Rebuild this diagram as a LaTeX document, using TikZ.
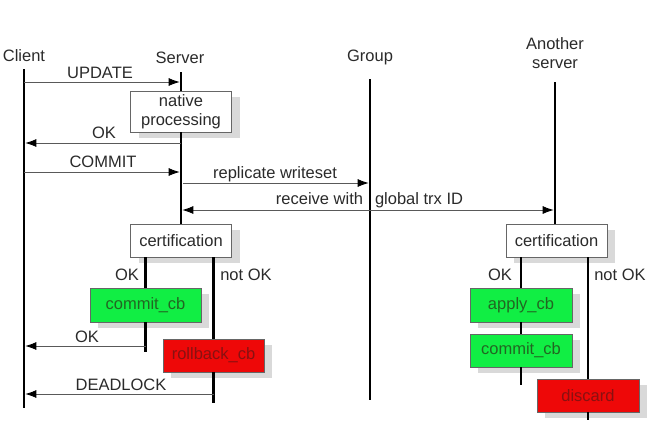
\documentclass[tikz,border=0pt]{standalone}
\usepackage{fontspec}
\setmainfont{Liberation Sans}
\usetikzlibrary{shadows,arrows.meta}
\definecolor{txt}{HTML}{2A2A2A}
\definecolor{boxgreen}{HTML}{11EE44}
\definecolor{boxred}{HTML}{EE0808}
\definecolor{gtxt}{HTML}{226622}
\definecolor{rtxt}{HTML}{881111}
\tikzset{
  life/.style={line width=2.5pt, black},
  msg/.style={line width=0.8pt, draw=black!65, -{Latex[length=11pt,width=8pt,black]}, shorten >=1.3pt},
  msgboth/.style={line width=0.8pt, draw=black!65, {Latex[length=11pt,width=8pt,black]}-{Latex[length=11pt,width=8pt,black]}, shorten >=1.3pt, shorten <=1.3pt},
  lbl/.style={text=txt, font=\fontsize{16.5}{18}\selectfont, inner sep=0pt},
  box/.style={draw=black!60, line width=0.8pt, fill=white, minimum width=101pt, minimum height=33pt, inner sep=0pt, align=center,
    drop shadow={shadow xshift=8pt, shadow yshift=-6pt, fill=black!15, opacity=1},
    text=txt, font=\fontsize{16.5}{18}\selectfont},
  gbox/.style={box, fill=boxgreen, text=gtxt},
  rbox/.style={box, fill=boxred, text=rtxt},
}
\begin{document}
\begin{tikzpicture}[x=1pt,y=-1pt]
\useasboundingbox (0,0) rectangle (649,445);

% headers
\node[lbl] (lc) at (24,56) {Client};
\node[lbl] (ls) at (180,58) {Server};
\node[lbl] (lg) at (370,57) {Group};
\node[lbl, align=center, font=\fontsize{16.5}{19}\selectfont] (la) at (555,53) {Another\\server};

% boxes
\node[box, minimum height=41pt, font=\fontsize{16.5}{19}\selectfont] (np) at (181,111.5) {native\\processing};
\node[box] (cert1) at (181,240.5) {certification};
\node[gbox, minimum width=111pt, minimum height=34pt] (ccb1) at (145.5,305) {commit\_cb};
\node[rbox] (rb) at (213.5,355.5) {rollback\_cb};
\node[box] (cert2) at (556.5,240.5) {certification};
\node[gbox, minimum width=102pt, minimum height=34pt] (apply) at (521,305) {apply\_cb};
\node[gbox, minimum width=102pt] (ccb2) at (521,350.5) {commit\_cb};
\node[rbox, minimum width=102pt] (disc) at (588,395.5) {discard};

% lifeline coordinates
\coordinate (ctop) at (24,69);
\coordinate (cbot) at (24,408);
\coordinate (stop) at (181,72);
\coordinate (gtop) at (370,79);
\coordinate (gbot) at (370,400);
\coordinate (atop) at (555,82);
\coordinate (ok1end) at (145.5,352);
\coordinate (nok1end) at (213.5,403);
\coordinate (ok2end) at (521,385);
\coordinate (nok2end) at (588,420);

% lifelines
\draw[life] (ctop) -- (cbot);
\draw[life] (stop) -- (np.north);
\draw[life] (np.south) -- (cert1.north);
\draw[life] (gtop) -- (gbot);
\draw[life] (atop) -- (atop |- cert2.north);
\draw[life] (cert1.south -| ccb1) -- (ccb1.north);
\draw[life] (ccb1.south) -- (ok1end);
\draw[life] (cert1.south -| rb) -- (rb.north);
\draw[life] (rb.south) -- (nok1end);
\draw[life] (cert2.south -| apply) -- (apply.north);
\draw[life] (apply.south) -- (ccb2.north);
\draw[life] (ccb2.south) -- (ok2end);
\draw[life] (cert2.south -| disc) -- (disc.north);
\draw[life] (disc.south) -- (nok2end);

% message endpoints
\coordinate (c1) at (24,82);   \coordinate (s1) at (181,82);
\coordinate (s2) at (181,143); \coordinate (c2) at (24,143);
\coordinate (c3) at (24,172);  \coordinate (s3) at (181,172);
\coordinate (s4) at (181,183); \coordinate (g4) at (370,183);
\coordinate (s5) at (181,210); \coordinate (a5) at (555,210);
\coordinate (c6) at (24,346);
\coordinate (c7) at (24,394);

% messages
\draw[msg] (c1) -- (s1);
\draw[msg] (s2) -- (c2);
\draw[msg] (c3) -- (s3);
\draw[msg] ([xshift=2pt]s4) -- (g4);
\draw[msgboth] (s5) -- (a5);
\draw[msg] (ok1end |- c6) -- (c6);
\draw[msg] (nok1end |- c7) -- (c7);

% labels
\node[lbl] (t1) at (100,73) {UPDATE};
\node[lbl] (t2) at (104,133) {OK};
\node[lbl] (t3) at (103,162) {COMMIT};
\node[lbl] (t4) at (275,174) {replicate writeset};
\node[lbl] (t5) at (369.5,200) {receive with\hspace{12pt}global trx ID};
\node[lbl] (t6) at (127,275) {OK};
\node[lbl] (t7) at (246,275) {not OK};
\node[lbl] (t8) at (87,337) {OK};
\node[lbl] (t9) at (121,385) {DEADLOCK};
\node[lbl] (t10) at (500,275) {OK};
\node[lbl] (t11) at (620,275) {not OK};
\end{tikzpicture}
\end{document}
